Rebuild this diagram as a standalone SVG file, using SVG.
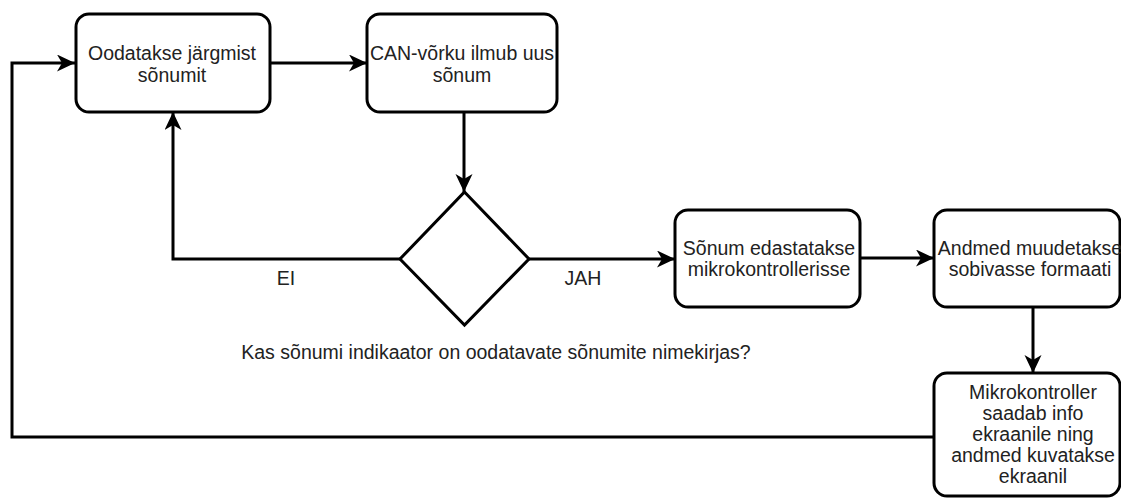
<svg xmlns="http://www.w3.org/2000/svg" width="1121" height="499" viewBox="0 0 1121 499">
  <style>
    .box { fill: #ffffff; stroke: #000000; stroke-width: 3; }
    .edge { fill: none; stroke: #000000; stroke-width: 3; }
    .lbl { font-family: "Liberation Sans", Arial, sans-serif; font-size: 19.5px; fill: #222222; text-anchor: middle; dominant-baseline: central; }
  </style>
  <defs>
    <marker id="arrow" markerUnits="userSpaceOnUse" markerWidth="20" markerHeight="18" refX="18" refY="8.5" orient="auto">
      <path d="M0,0 L18,8.5 L0,17 L5,8.5 z" fill="#000000"/>
    </marker>
  </defs>
  <rect width="1121" height="499" fill="#ffffff"/>

  <g id="connectors">
    <path class="edge" d="M270,63 H367" marker-end="url(#arrow)"/>
    <path class="edge" d="M464,112 V192" marker-end="url(#arrow)"/>
    <path class="edge" d="M400,259 H173 V112" marker-end="url(#arrow)"/>
    <path class="edge" d="M529,259 H675" marker-end="url(#arrow)"/>
    <path class="edge" d="M860,258 H934" marker-end="url(#arrow)"/>
    <path class="edge" d="M1033,307 V373" marker-end="url(#arrow)"/>
    <path class="edge" d="M934,437 H12 V63 H75" marker-end="url(#arrow)"/>
    <text class="lbl" x="286" y="278">EI</text>
    <text class="lbl" x="583" y="278">JAH</text>
  </g>

  <g id="wait">
    <rect class="box" x="76" y="14" width="194" height="98" rx="13"/>
    <text class="lbl" x="172" y="53">Oodatakse järgmist</text>
    <text class="lbl" x="172" y="75">sõnumit</text>
  </g>

  <g id="new-message">
    <rect class="box" x="367" y="14" width="190" height="98" rx="13"/>
    <text class="lbl" x="462" y="53">CAN-võrku ilmub uus</text>
    <text class="lbl" x="462" y="75">sõnum</text>
  </g>

  <g id="decision">
    <path class="box" d="M464.5,192 L529,259 L464.5,325 L400,259 Z"/>
    <text class="lbl" x="496" y="352">Kas sõnumi indikaator on oodatavate sõnumite nimekirjas?</text>
  </g>

  <g id="forward">
    <rect class="box" x="675" y="210" width="185" height="97" rx="13"/>
    <text class="lbl" x="769" y="248">Sõnum edastatakse</text>
    <text class="lbl" x="769" y="269">mikrokontrollerisse</text>
  </g>

  <g id="convert">
    <rect class="box" x="934" y="210" width="186" height="97" rx="13"/>
    <text class="lbl" x="1030" y="248">Andmed muudetakse</text>
    <text class="lbl" x="1030" y="269">sobivasse formaati</text>
  </g>

  <g id="display">
    <rect class="box" x="934" y="373" width="186" height="123" rx="13"/>
    <text class="lbl" x="1033" y="392">Mikrokontroller</text>
    <text class="lbl" x="1033" y="413">saadab info</text>
    <text class="lbl" x="1033" y="434">ekraanile ning</text>
    <text class="lbl" x="1033" y="455">andmed kuvatakse</text>
    <text class="lbl" x="1033" y="476">ekraanil</text>
  </g>
</svg>
